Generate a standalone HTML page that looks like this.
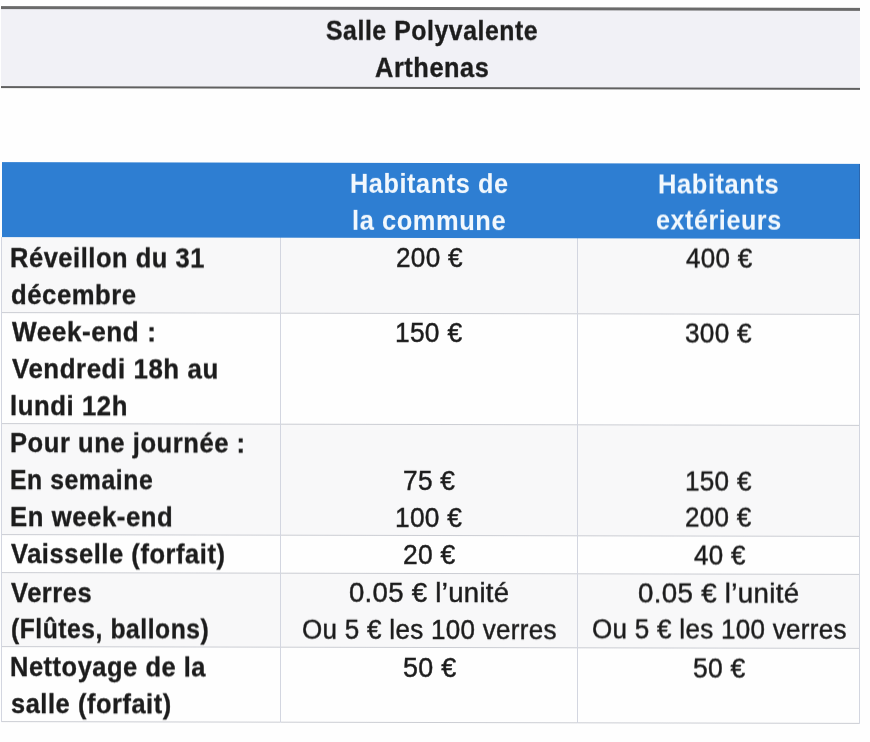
<!DOCTYPE html>
<html><head><meta charset="utf-8"><style>
html,body{margin:0;padding:0;background:#fefefe;width:870px;height:742px;overflow:hidden}
#pg{position:absolute;left:0;top:0;width:870px;height:742px;transform-origin:435px 371px;transform:skewY(0.12deg);filter:blur(0.5px)}
.t{position:absolute;white-space:nowrap;font-family:"Liberation Sans",sans-serif;transform-origin:0 0}
</style></head><body><div id="pg">
<div style="position:absolute;left:1px;top:7px;width:859px;height:82px;background:#f1f1f6;border-top:3px solid #6a6a6a;border-bottom:2px solid #606060;box-sizing:border-box"></div>
<div style="position:absolute;left:1.5px;top:163px;width:858.3px;height:75px;background:#2e7ed2;box-shadow:inset -1px 0 0 #2b66ad"></div>
<div style="position:absolute;left:1.5px;top:238px;width:858.3px;height:75px;background:#f8f8f9"></div>
<div style="position:absolute;left:1.5px;top:424px;width:858.3px;height:111px;background:#f8f8f9"></div>
<div style="position:absolute;left:1.5px;top:573px;width:858.3px;height:74px;background:#f8f8f9"></div>
<div style="position:absolute;left:1.0px;top:312.5px;width:859.3px;height:1px;background:#cbcdd3"></div>
<div style="position:absolute;left:1.0px;top:423.5px;width:859.3px;height:1px;background:#cbcdd3"></div>
<div style="position:absolute;left:1.0px;top:534.5px;width:859.3px;height:1px;background:#cbcdd3"></div>
<div style="position:absolute;left:1.0px;top:572.5px;width:859.3px;height:1px;background:#cbcdd3"></div>
<div style="position:absolute;left:1.0px;top:646.5px;width:859.3px;height:1px;background:#cbcdd3"></div>
<div style="position:absolute;left:1.0px;top:721.5px;width:859.3px;height:1px;background:#cbcdd3"></div>
<div style="position:absolute;left:1.0px;top:238px;width:1px;height:484.5px;background:#d3d6e0"></div>
<div style="position:absolute;left:280.2px;top:238px;width:1px;height:484.5px;background:#d3d6e0"></div>
<div style="position:absolute;left:576.5px;top:238px;width:1px;height:484.5px;background:#d3d6e0"></div>
<div style="position:absolute;left:859.3px;top:238px;width:1px;height:484.5px;background:#d3d6e0"></div>
<div class="t" style="left:325.67px;top:17.64px;font-size:26.8px;line-height:26.8px;font-weight:bold;color:#1c1c1c;-webkit-text-stroke:0.35px #1c1c1c;letter-spacing:0.6px;transform:scaleX(0.9260)">Salle Polyvalente</div>
<div class="t" style="left:375.05px;top:54.94px;font-size:26.8px;line-height:26.8px;font-weight:bold;color:#1c1c1c;-webkit-text-stroke:0.35px #1c1c1c;letter-spacing:0.6px;transform:scaleX(0.9462)">Arthenas</div>
<div class="t" style="left:349.91px;top:170.59px;font-size:26.8px;line-height:26.8px;font-weight:bold;color:#f2f8fd;-webkit-text-stroke:0.05px #f2f8fd;letter-spacing:0.6px;transform:scaleX(0.9436)">Habitants de</div>
<div class="t" style="left:351.80px;top:207.58px;font-size:26.8px;line-height:26.8px;font-weight:bold;color:#f2f8fd;-webkit-text-stroke:0.05px #f2f8fd;letter-spacing:0.6px;transform:scaleX(0.9497)">la commune</div>
<div class="t" style="left:658.10px;top:170.94px;font-size:26.8px;line-height:26.8px;font-weight:bold;color:#f2f8fd;-webkit-text-stroke:0.05px #f2f8fd;letter-spacing:0.6px;transform:scaleX(0.9516)">Habitants</div>
<div class="t" style="left:655.96px;top:206.95px;font-size:26.8px;line-height:26.8px;font-weight:bold;color:#f2f8fd;-webkit-text-stroke:0.05px #f2f8fd;letter-spacing:0.6px;transform:scaleX(0.9371)">extérieurs</div>
<div class="t" style="left:10.00px;top:245.80px;font-size:26.8px;line-height:26.8px;font-weight:bold;color:#1c1c1c;-webkit-text-stroke:0.35px #1c1c1c;letter-spacing:0.6px;transform:scaleX(0.9485)">Réveillon du 31</div>
<div class="t" style="left:10.94px;top:282.80px;font-size:26.8px;line-height:26.8px;font-weight:bold;color:#1c1c1c;-webkit-text-stroke:0.35px #1c1c1c;letter-spacing:0.6px;transform:scaleX(0.9566)">décembre</div>
<div class="t" style="left:11.90px;top:320.30px;font-size:26.8px;line-height:26.8px;font-weight:bold;color:#1c1c1c;-webkit-text-stroke:0.35px #1c1c1c;letter-spacing:0.6px;transform:scaleX(0.9733)">Week-end :</div>
<div class="t" style="left:11.50px;top:357.30px;font-size:26.8px;line-height:26.8px;font-weight:bold;color:#1c1c1c;-webkit-text-stroke:0.35px #1c1c1c;letter-spacing:0.6px;transform:scaleX(0.9637)">Vendredi 18h au</div>
<div class="t" style="left:9.98px;top:394.30px;font-size:26.8px;line-height:26.8px;font-weight:bold;color:#1c1c1c;-webkit-text-stroke:0.35px #1c1c1c;letter-spacing:0.6px;transform:scaleX(0.9588)">lundi 12h</div>
<div class="t" style="left:10.00px;top:431.30px;font-size:26.8px;line-height:26.8px;font-weight:bold;color:#1c1c1c;-webkit-text-stroke:0.35px #1c1c1c;letter-spacing:0.6px;transform:scaleX(0.9519)">Pour une journée :</div>
<div class="t" style="left:10.05px;top:468.30px;font-size:26.8px;line-height:26.8px;font-weight:bold;color:#1c1c1c;-webkit-text-stroke:0.35px #1c1c1c;letter-spacing:0.6px;transform:scaleX(0.9243)">En semaine</div>
<div class="t" style="left:9.98px;top:504.80px;font-size:26.8px;line-height:26.8px;font-weight:bold;color:#1c1c1c;-webkit-text-stroke:0.35px #1c1c1c;letter-spacing:0.6px;transform:scaleX(0.9584)">En week-end</div>
<div class="t" style="left:11.20px;top:542.30px;font-size:26.8px;line-height:26.8px;font-weight:bold;color:#1c1c1c;-webkit-text-stroke:0.35px #1c1c1c;letter-spacing:0.6px;transform:scaleX(0.9500)">Vaisselle (forfait)</div>
<div class="t" style="left:11.20px;top:580.80px;font-size:26.8px;line-height:26.8px;font-weight:bold;color:#1c1c1c;-webkit-text-stroke:0.35px #1c1c1c;letter-spacing:0.6px;transform:scaleX(0.9500)">Verres</div>
<div class="t" style="left:10.98px;top:617.30px;font-size:26.8px;line-height:26.8px;font-weight:bold;color:#1c1c1c;-webkit-text-stroke:0.35px #1c1c1c;letter-spacing:0.6px;transform:scaleX(0.9192)">(Flûtes, ballons)</div>
<div class="t" style="left:10.01px;top:655.30px;font-size:26.8px;line-height:26.8px;font-weight:bold;color:#1c1c1c;-webkit-text-stroke:0.35px #1c1c1c;letter-spacing:0.6px;transform:scaleX(0.9468)">Nettoyage de la</div>
<div class="t" style="left:10.95px;top:691.80px;font-size:26.8px;line-height:26.8px;font-weight:bold;color:#1c1c1c;-webkit-text-stroke:0.35px #1c1c1c;letter-spacing:0.6px;transform:scaleX(0.9467)">salle (forfait)</div>
<div class="t" style="left:395.73px;top:245.32px;font-size:27px;line-height:27px;font-weight:normal;color:#1c1c1c;-webkit-text-stroke:0.45px #1c1c1c;letter-spacing:0.3px;transform:scaleX(0.9676)">200 €</div>
<div class="t" style="left:685.50px;top:245.22px;font-size:27px;line-height:27px;font-weight:normal;color:#1c1c1c;-webkit-text-stroke:0.45px #1c1c1c;letter-spacing:0.3px;transform:scaleX(0.9609)">400 €</div>
<div class="t" style="left:395.25px;top:319.82px;font-size:27px;line-height:27px;font-weight:normal;color:#1c1c1c;-webkit-text-stroke:0.45px #1c1c1c;letter-spacing:0.3px;transform:scaleX(0.9746)">150 €</div>
<div class="t" style="left:684.93px;top:319.52px;font-size:27px;line-height:27px;font-weight:normal;color:#1c1c1c;-webkit-text-stroke:0.45px #1c1c1c;letter-spacing:0.3px;transform:scaleX(0.9691)">300 €</div>
<div class="t" style="left:403.33px;top:468.31px;font-size:27px;line-height:27px;font-weight:normal;color:#1c1c1c;-webkit-text-stroke:0.45px #1c1c1c;letter-spacing:0.3px;transform:scaleX(0.9712)">75 €</div>
<div class="t" style="left:395.05px;top:505.02px;font-size:27px;line-height:27px;font-weight:normal;color:#1c1c1c;-webkit-text-stroke:0.45px #1c1c1c;letter-spacing:0.3px;transform:scaleX(0.9731)">100 €</div>
<div class="t" style="left:685.07px;top:468.12px;font-size:27px;line-height:27px;font-weight:normal;color:#1c1c1c;-webkit-text-stroke:0.45px #1c1c1c;letter-spacing:0.3px;transform:scaleX(0.9657)">150 €</div>
<div class="t" style="left:685.24px;top:504.42px;font-size:27px;line-height:27px;font-weight:normal;color:#1c1c1c;-webkit-text-stroke:0.45px #1c1c1c;letter-spacing:0.3px;transform:scaleX(0.9632)">200 €</div>
<div class="t" style="left:403.02px;top:541.91px;font-size:27px;line-height:27px;font-weight:normal;color:#1c1c1c;-webkit-text-stroke:0.45px #1c1c1c;letter-spacing:0.3px;transform:scaleX(0.9769)">20 €</div>
<div class="t" style="left:693.50px;top:541.90px;font-size:27px;line-height:27px;font-weight:normal;color:#1c1c1c;-webkit-text-stroke:0.45px #1c1c1c;letter-spacing:0.3px;transform:scaleX(0.9604)">40 €</div>
<div class="t" style="left:348.98px;top:580.12px;font-size:27px;line-height:27px;font-weight:normal;color:#1c1c1c;-webkit-text-stroke:0.45px #1c1c1c;letter-spacing:0.3px;transform:scaleX(1.0194)">0.05 € l’unité</div>
<div class="t" style="left:301.74px;top:616.52px;font-size:27px;line-height:27px;font-weight:normal;color:#1c1c1c;-webkit-text-stroke:0.45px #1c1c1c;letter-spacing:0.3px;transform:scaleX(0.9631)">Ou 5 € les 100 verres</div>
<div class="t" style="left:638.27px;top:579.82px;font-size:27px;line-height:27px;font-weight:normal;color:#1c1c1c;-webkit-text-stroke:0.45px #1c1c1c;letter-spacing:0.3px;transform:scaleX(1.0258)">0.05 € l’unité</div>
<div class="t" style="left:591.74px;top:616.41px;font-size:27px;line-height:27px;font-weight:normal;color:#1c1c1c;-webkit-text-stroke:0.45px #1c1c1c;letter-spacing:0.3px;transform:scaleX(0.9631)">Ou 5 € les 100 verres</div>
<div class="t" style="left:402.61px;top:655.31px;font-size:27px;line-height:27px;font-weight:normal;color:#1c1c1c;-webkit-text-stroke:0.45px #1c1c1c;letter-spacing:0.3px;transform:scaleX(0.9942)">50 €</div>
<div class="t" style="left:692.62px;top:655.20px;font-size:27px;line-height:27px;font-weight:normal;color:#1c1c1c;-webkit-text-stroke:0.45px #1c1c1c;letter-spacing:0.3px;transform:scaleX(0.9788)">50 €</div>
</div></body></html>
